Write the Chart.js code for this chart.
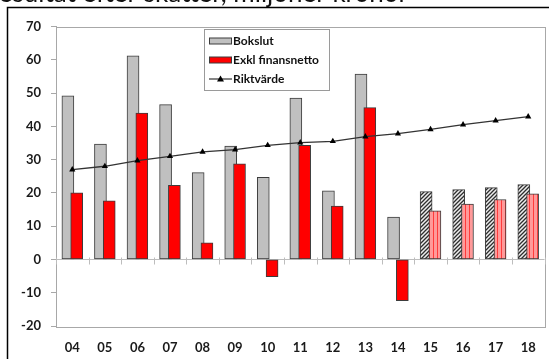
<!DOCTYPE html>
<html>
<head>
<meta charset="utf-8">
<script src="https://cdn.jsdelivr.net/npm/chart.js@4"></script>
<style>
  html, body { margin: 0; padding: 0; background: #fff; }
  #wrap { width: 549px; height: 359px; }
</style>
</head>
<body>
<div id="wrap"><canvas id="c" width="549" height="359"></canvas></div>
<script>
// Years shown on the category axis
const categories = ['04','05','06','07','08','09','10','11','12','13','14','15','16','17','18'];
// Result per year (miljoner kronor)
const bokslut         = [49.2, 34.7, 61.2, 46.5, 26.1, 34.1, 24.7, 48.5, 20.6, 55.7, 12.7, 20.4, 21.0, 21.6, 22.5];
const exklFinansnetto = [20.0, 17.6, 44.0, 22.3, 5.0, 28.7, -5.2, 34.3, 16.0, 45.6, -12.4, 14.6, 16.6, 18.0, 19.7];
const riktvarde       = [27.0, 28.0, 29.7, 31.0, 32.3, 33.0, 34.3, 35.1, 35.5, 36.9, 37.8, 39.1, 40.5, 41.7, 42.9];
// Budget/plan years start here
const forecastFrom = 11;
const seriesLabels = ['Bokslut', 'Exkl finansnetto', 'Riktvärde'];
const titleText = 'Resultat efter skatter, miljoner kronor';
const yMin = -20, yMax = 70, yStep = 10;

const FONT = 'Lato, "DejaVu Sans", sans-serif';

function makePattern(bg, fg, kind) {
  const s = 4;
  const cv = document.createElement('canvas');
  cv.width = s; cv.height = s;
  const g = cv.getContext('2d');
  g.fillStyle = bg; g.fillRect(0, 0, s, s);
  g.strokeStyle = fg;
  if (kind === 'diag') {
    g.lineWidth = 1.3;
    g.beginPath();
    g.moveTo(-1, s + 1); g.lineTo(s + 1, -1);
    g.moveTo(-1, 1); g.lineTo(1, -1);
    g.moveTo(s - 1, s + 1); g.lineTo(s + 1, s - 1);
    g.stroke();
  } else {
    g.lineWidth = 1;
    g.beginPath();
    g.moveTo(1.5, 0); g.lineTo(1.5, s);
    g.stroke();
  }
  return g.createPattern(cv, 'repeat');
}
const greyHatch = makePattern('#eeeeee', '#2e2e2e', 'diag');
const redStripe = makePattern('#ff9a9a', '#ff3b3b', 'vert');

const shift = 0.135;
const greyColor = '#c0c0c0';
const redColor = '#ff0000';
const edge = '#3c3c3c';

const frame = {
  id: 'frame',
  beforeDraw(chart) {
    const ctx = chart.ctx;
    ctx.save();
    ctx.fillStyle = '#fff';
    ctx.fillRect(0, 0, chart.width, chart.height);
    // heading line running above the frame
    ctx.fillStyle = '#111';
    ctx.font = '26px ' + FONT;
    ctx.textAlign = 'right';
    ctx.textBaseline = 'alphabetic';
    ctx.fillText(titleText, 408, 2);
    // outer frame
    ctx.strokeStyle = '#000';
    ctx.lineWidth = 1.5;
    ctx.beginPath();
    ctx.moveTo(7.5, chart.height + 5);
    ctx.lineTo(7.5, 7.5);
    ctx.lineTo(chart.width + 5, 7.5);
    ctx.stroke();
    ctx.restore();
  },
  beforeDatasetsDraw(chart) {
    const ctx = chart.ctx;
    const a = chart.chartArea;
    const xs = chart.scales.x, ys = chart.scales.y;
    ctx.save();
    ctx.strokeStyle = '#a8a8a8';
    ctx.lineWidth = 1;
    ctx.strokeRect(Math.round(a.left) + 0.5, Math.round(a.top) + 0.5,
                   Math.round(a.right - a.left), Math.round(a.bottom - a.top));
    // category axis crossing at zero, ticks between categories
    const y0 = Math.round(ys.getPixelForValue(0)) + 0.5;
    ctx.strokeStyle = '#bdbdbd';
    ctx.beginPath();
    ctx.moveTo(a.left, y0); ctx.lineTo(a.right, y0);
    for (let i = 0; i <= categories.length; i++) {
      const x = Math.round(xs.getPixelForValue(i - 0.5)) + 0.5;
      ctx.moveTo(x, y0 - 2); ctx.lineTo(x, y0 + 5);
    }
    ctx.stroke();
    ctx.restore();
  },
  afterDraw(chart) {
    const ctx = chart.ctx;
    ctx.save();
    const bx = 204.5, by = 29.5, bw = 125, bh = 61;
    ctx.fillStyle = '#fff';
    ctx.fillRect(bx, by, bw, bh);
    ctx.strokeStyle = '#9a9a9a';
    ctx.lineWidth = 1;
    ctx.strokeRect(bx, by, bw, bh);
    const rows = [41, 60, 79];
    ctx.font = 'bold 12px ' + FONT;
    ctx.textAlign = 'left';
    ctx.textBaseline = 'middle';
    // swatches
    ctx.fillStyle = greyColor;
    ctx.fillRect(209.5, rows[0] - 3, 22, 6);
    ctx.strokeStyle = edge;
    ctx.strokeRect(209.5, rows[0] - 3, 22, 6);
    ctx.fillStyle = redColor;
    ctx.fillRect(209.5, rows[1] - 3, 22, 6);
    ctx.strokeRect(209.5, rows[1] - 3, 22, 6);
    ctx.strokeStyle = '#333';
    ctx.lineWidth = 1.2;
    ctx.beginPath();
    ctx.moveTo(209, rows[2]); ctx.lineTo(232, rows[2]);
    ctx.stroke();
    ctx.fillStyle = '#000';
    ctx.beginPath();
    ctx.moveTo(220.5, rows[2] - 3.5);
    ctx.lineTo(224, rows[2] + 2.5);
    ctx.lineTo(217, rows[2] + 2.5);
    ctx.closePath();
    ctx.fill();
    ctx.fillStyle = '#111';
    seriesLabels.forEach((t, i) => ctx.fillText(t, 233, rows[i] + 0.5));
    ctx.restore();
  }
};

new Chart(document.getElementById('c'), {
  type: 'bar',
  data: {
    datasets: [
      {
        type: 'line',
        label: seriesLabels[2],
        data: riktvarde.map((v, i) => ({ x: i, y: v })),
        borderColor: '#333',
        borderWidth: 1.3,
        pointStyle: 'triangle',
        pointRadius: 3.6,
        pointBackgroundColor: '#000',
        pointBorderColor: '#000',
        pointBorderWidth: 0,
        tension: 0,
        order: 1
      },
      {
        label: seriesLabels[1],
        data: exklFinansnetto.map((v, i) => ({ x: i + shift, y: v })),
        backgroundColor: c => c.dataIndex >= forecastFrom ? redStripe : redColor,
        borderColor: edge,
        borderWidth: 1,
        borderSkipped: false,
        barThickness: 12,
        grouped: false,
        order: 2
      },
      {
        label: seriesLabels[0],
        data: bokslut.map((v, i) => ({ x: i - shift, y: v })),
        backgroundColor: c => c.dataIndex >= forecastFrom ? greyHatch : greyColor,
        borderColor: edge,
        borderWidth: 1,
        borderSkipped: false,
        barThickness: 12,
        grouped: false,
        order: 3
      }
    ]
  },
  options: {
    responsive: false,
    animation: false,
    devicePixelRatio: 1,
    layout: { padding: { top: 26.5, right: 4.5, bottom: 0, left: 0 } },
    plugins: { legend: { display: false }, tooltip: { enabled: false } },
    scales: {
      x: {
        type: 'linear',
        offset: false,
        min: -0.5,
        max: categories.length - 0.5,
        grid: { display: false, offset: false },
        border: { display: false },
        afterFit(s) { s.height = 33; },
        afterBuildTicks(s) { s.ticks = categories.map((_, i) => ({ value: i })); },
        ticks: {
          autoSkip: false,
          maxRotation: 0,
          padding: 6,
          color: '#1a1a1a',
          font: { family: FONT, size: 13, weight: 'bold' },
          callback: v => categories[v] ?? ''
        }
      },
      y: {
        min: yMin,
        max: yMax,
        afterFit(s) { s.width = 56; },
        grid: { drawOnChartArea: false, drawTicks: true, tickLength: 5, color: '#a8a8a8' },
        border: { color: '#a8a8a8' },
        ticks: {
          stepSize: yStep,
          padding: 10,
          color: '#1a1a1a',
          font: { family: FONT, size: 13, weight: 'bold' }
        }
      }
    }
  },
  plugins: [frame]
});
</script>
</body>
</html>
